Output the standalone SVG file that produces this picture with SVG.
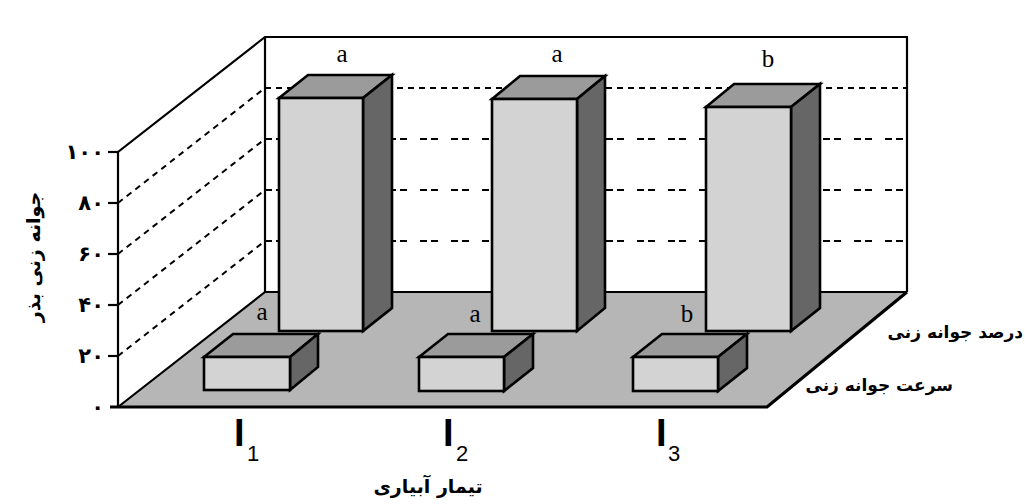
<svg xmlns="http://www.w3.org/2000/svg" width="1025" height="504" viewBox="0 0 1025 504">
<style>
.ln{fill:none;stroke:#000;stroke-width:2.2;stroke-linejoin:miter}
.dash1{fill:none;stroke:#000;stroke-width:2;stroke-dasharray:6,5}
.dash2{fill:none;stroke:#000;stroke-width:2;stroke-dasharray:7,4,7,13}
.front{fill:#d3d3d3;stroke:#000;stroke-width:2.6;stroke-linejoin:miter}
.top{fill:#9b9b9b;stroke:#000;stroke-width:2.6;stroke-linejoin:miter}
.side{fill:#666;stroke:#000;stroke-width:2.6;stroke-linejoin:miter}
.let{font-family:"Liberation Serif",serif;font-size:25px;fill:#000;text-anchor:middle}
.fa{font-family:"DejaVu Sans",sans-serif;font-weight:bold;fill:#000}
.tick{font-family:"DejaVu Sans",sans-serif;font-size:21px;font-weight:bold;fill:#000;text-anchor:end}
.big{font-family:"Liberation Sans",sans-serif;font-size:38px;font-weight:bold;fill:#000}
.sub{font-family:"Liberation Sans",sans-serif;font-size:22px;fill:#000}
</style>
<rect width="1025" height="504" fill="#fff"/>
<g id="walls">
<polygon points="265,292 907,292 767,407 118,407" fill="#b6b6b6"/>
<polyline class="ln" points="118,407 118,152 265,37 907,37 907,292"/>
<line class="ln" x1="265" y1="37" x2="265" y2="292"/>
<polyline class="ln" points="118,407 265,292 907,292"/>
<polyline style="fill:none;stroke:#000;stroke-width:3.2" points="110,407 767,407 907,292"/>
</g>
<g id="grid">
<line class="dash1" x1="265" y1="88" x2="907" y2="88"/>
<line class="dash2" x1="265" y1="139" x2="907" y2="139"/>
<line class="dash2" x1="265" y1="190" x2="907" y2="190"/>
<line class="dash2" x1="265" y1="241" x2="907" y2="241"/>
<line class="dash1" x1="118" y1="203" x2="265" y2="88"/>
<line class="dash1" x1="118" y1="254" x2="265" y2="139"/>
<line class="dash1" x1="118" y1="305" x2="265" y2="190"/>
<line class="dash1" x1="118" y1="356" x2="265" y2="241"/>
</g>
<g id="yaxis">
<g class="ln">
<line x1="108" y1="152" x2="118" y2="152"/>
<line x1="108" y1="203" x2="118" y2="203"/>
<line x1="108" y1="254" x2="118" y2="254"/>
<line x1="108" y1="305" x2="118" y2="305"/>
<line x1="108" y1="356" x2="118" y2="356"/>
</g>
<text class="tick" x="104" y="159">۱۰۰</text>
<text class="tick" x="104" y="210">۸۰</text>
<text class="tick" x="104" y="261">۶۰</text>
<text class="tick" x="104" y="312">۴۰</text>
<text class="tick" x="104" y="363">۲۰</text>
<text class="tick" x="104" y="414">۰</text>
<text class="fa" font-size="19" text-anchor="middle" transform="translate(40,257) rotate(-90)">جوانه زنی بذر</text>
</g>
<g id="bar-small-1">
<polygon class="top" points="204,357 233,334 318,334 290,357"/>
<polygon class="side" points="290,357 318,334 318,367 290,390"/>
<rect class="front" x="204" y="357" width="86" height="33"/>
<text class="let" x="262" y="320">a</text>
</g>
<g id="bar-small-2">
<polygon class="top" points="419,357 448,334 533,334 504,357"/>
<polygon class="side" points="504,357 533,334 533,368 504,391"/>
<rect class="front" x="419" y="357" width="85" height="34"/>
<text class="let" x="475" y="322">a</text>
</g>
<g id="bar-small-3">
<polygon class="top" points="633,357 662,334 747,334 718,357"/>
<polygon class="side" points="718,357 747,334 747,368 718,391"/>
<rect class="front" x="633" y="357" width="85" height="34"/>
<text class="let" x="687" y="322">b</text>
</g>
<g id="bar-tall-1">
<polygon class="top" points="279,98 308,75 392,75 363,98"/>
<polygon class="side" points="363,98 392,75 392,308 363,331"/>
<rect class="front" x="279" y="98" width="84" height="233"/>
<text class="let" x="342" y="62">a</text>
</g>
<g id="bar-tall-2">
<polygon class="top" points="492,99 520,76 605,76 577,99"/>
<polygon class="side" points="577,99 605,76 605,308 577,331"/>
<rect class="front" x="492" y="99" width="85" height="232"/>
<text class="let" x="557" y="62">a</text>
</g>
<g id="bar-tall-3">
<polygon class="top" points="706,107 734,84 820,84 791,107"/>
<polygon class="side" points="791,107 820,84 820,308 791,331"/>
<rect class="front" x="706" y="107" width="85" height="224"/>
<text class="let" x="768" y="67">b</text>
</g>
<g id="xaxis">
<text class="big" x="234" y="446">I</text><text class="sub" x="247" y="461">1</text>
<text class="big" x="443" y="446">I</text><text class="sub" x="456" y="461">2</text>
<text class="big" x="656" y="446">I</text><text class="sub" x="668" y="461">3</text>
<text class="fa" font-size="19" text-anchor="middle" x="428" y="493">تیمار آبیاری</text>
</g>
<g id="legend">
<text class="fa" font-size="17" text-anchor="end" x="1023" y="338">درصد جوانه زنی</text>
<text class="fa" font-size="17" text-anchor="end" x="953" y="391">سرعت جوانه زنی</text>
</g>
</svg>
